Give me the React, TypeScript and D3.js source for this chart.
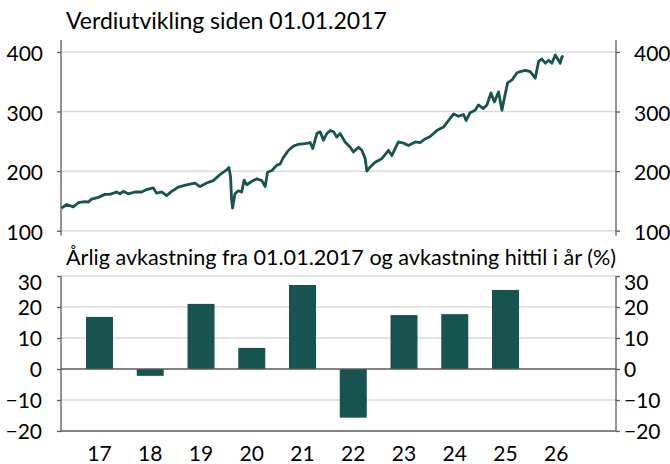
import * as d3 from 'd3';
import { useEffect, useRef } from 'react';

// Verdiutvikling (indeksert) - datoer og verdier lest av figuren
const lineDates = [
  '2017-01-05', '2017-02-09', '2017-03-26', '2017-04-29', '2017-06-14', '2017-07-06', '2017-07-30', '2017-09-13',
  '2017-10-29', '2017-12-02', '2018-01-17', '2018-02-09', '2018-03-03', '2018-04-07', '2018-05-22', '2018-07-07',
  '2018-08-10', '2018-09-24', '2018-10-18', '2018-11-21', '2018-12-25', '2019-01-28', '2019-03-14', '2019-05-11',
  '2019-07-07', '2019-08-10', '2019-09-25', '2019-11-09', '2019-12-25', '2020-02-09', '2020-02-25', '2020-03-07',
  '2020-03-14', '2020-03-21', '2020-04-06', '2020-04-29', '2020-05-22', '2020-06-08', '2020-06-26', '2020-07-31',
  '2020-09-03', '2020-10-07', '2020-10-30', '2020-11-15', '2020-12-15', '2021-01-18', '2021-02-10', '2021-03-04',
  '2021-04-08', '2021-05-12', '2021-06-15', '2021-07-31', '2021-09-03', '2021-09-21', '2021-10-19', '2021-11-10',
  '2021-12-03', '2021-12-26', '2022-01-18', '2022-02-10', '2022-03-04', '2022-03-27', '2022-04-30', '2022-06-04',
  '2022-06-26', '2022-07-31', '2022-08-23', '2022-09-15', '2022-09-26', '2022-10-19', '2022-11-22', '2023-01-07',
  '2023-02-21', '2023-03-16', '2023-04-30', '2023-06-04', '2023-07-08', '2023-08-23', '2023-09-26', '2023-10-30',
  '2023-12-04', '2024-01-18', '2024-03-04', '2024-04-08', '2024-05-12', '2024-06-15', '2024-07-19', '2024-08-06',
  '2024-09-02', '2024-10-06', '2024-10-29', '2024-12-02', '2024-12-26', '2025-01-23', '2025-02-15', '2025-03-16',
  '2025-04-08', '2025-04-24', '2025-05-17', '2025-06-16', '2025-07-20', '2025-08-12', '2025-09-15', '2025-10-19',
  '2025-11-22', '2025-12-15', '2026-01-07', '2026-01-30', '2026-02-22', '2026-03-16', '2026-04-08', '2026-04-23',
  '2026-05-12', '2026-05-24', '2026-06-04',
];
const lineValues = [
  138, 144, 140, 147, 149, 148, 153, 156,
  161, 161, 165, 162, 166, 162, 165, 165,
  169, 172, 163, 165, 159, 166, 173, 177,
  180, 174, 180, 184, 194, 202, 206, 190,
  153, 138, 162, 167, 165, 185, 177, 183,
  187, 184, 174, 198, 201, 210, 212, 223,
  235, 242, 245, 246, 248, 238, 263, 266,
  252, 263, 268, 266, 257, 263, 249, 240,
  232, 240, 235, 221, 200, 207, 215, 221,
  235, 226, 249, 247, 243, 249, 248, 254,
  258, 268, 274, 285, 296, 292, 295, 285,
  298, 302, 311, 305, 311, 331, 316, 333,
  302, 322, 348, 353, 365, 367, 369, 367,
  356, 384, 388, 381, 386, 381, 395, 389,
  381, 392, 393,
];
const lineTicks = [100, 200, 300, 400];

// Årlig avkastning (%)
const years = ['17', '18', '19', '20', '21', '22', '23', '24', '25', '26'];
const returns: (number | null)[] = [16.8, -2.2, 21.0, 6.8, 27.1, -15.7, 17.4, 17.7, 25.5, null];
const barTicks = [-20, -10, 0, 10, 20, 30];

const App = () => {
  const ref = useRef<SVGSVGElement | null>(null);

  useEffect(() => {
    const width = 670;
    const height = 464;
    const left = 61;
    const right = 616;
    const font = 'Lato, "Open Sans", sans-serif';
    const green = '#17544f';
    const grid = '#d9d9d9';
    const axisCol = '#595959';

    const svg = d3.select(ref.current).attr('width', width).attr('height', height);
    svg.selectAll('*').remove();
    svg.append('rect').attr('width', width).attr('height', height).attr('fill', '#fff');

    // ---------- Øvre figur: linje ----------
    const x = d3
      .scaleTime()
      .domain([new Date(2017, 0, 1), new Date(2027, 4, 29)])
      .range([left, right]);
    const y = d3.scaleLinear().domain([92, 420]).range([235.5, 40]);

    svg
      .append('text')
      .attr('x', 66)
      .attr('y', 29)
      .attr('font-family', font)
      .attr('font-size', 23)
      .attr('fill', '#000')
      .text('Verdiutvikling siden 01.01.2017');

    svg
      .append('g')
      .selectAll('line')
      .data(lineTicks)
      .join('line')
      .attr('x1', left)
      .attr('x2', right)
      .attr('y1', (d) => y(d))
      .attr('y2', (d) => y(d))
      .attr('stroke', grid)
      .attr('stroke-width', 1.5);

    const topLeft = svg
      .append('g')
      .attr('transform', `translate(${left},0)`)
      .call(d3.axisLeft(y).tickValues(lineTicks).tickSize(4).tickPadding(14));
    const topRight = svg
      .append('g')
      .attr('transform', `translate(${right},0)`)
      .call(d3.axisRight(y).tickValues(lineTicks).tickSize(4).tickPadding(14));
    [topLeft, topRight].forEach((g) => {
      g.select('.domain').attr('d', `M0,${y(420)}V${y(92)}`).attr('stroke', axisCol).attr('stroke-width', 1.3);
      g.selectAll('.tick line').attr('stroke', axisCol).attr('stroke-width', 1.3);
      g.selectAll('.tick text')
        .attr('font-family', font)
        .attr('font-size', 21)
        .attr('fill', '#000')
        .attr('dy', '0.42em');
    });

    const parse = d3.timeParse('%Y-%m-%d');
    const pts = lineDates.map((d, i) => [parse(d) as Date, lineValues[i]] as [Date, number]);
    const line = d3
      .line<[Date, number]>()
      .x((d) => x(d[0]))
      .y((d) => y(d[1]))
      .curve(d3.curveLinear);
    svg
      .append('path')
      .attr('d', line(pts))
      .attr('fill', 'none')
      .attr('stroke', green)
      .attr('stroke-width', 2.8)
      .attr('stroke-linejoin', 'round');

    // ---------- Nedre figur: søyler ----------
    const xb = d3
      .scaleBand()
      .domain(years)
      .range([left, right])
      .paddingInner(0.468)
      .paddingOuter(0.702)
      .align(0.351);
    const yb = d3.scaleLinear().domain([-20, 30]).range([431, 276]);

    svg
      .append('text')
      .attr('x', 66)
      .attr('y', 265)
      .attr('font-family', font)
      .attr('font-size', 21.6)
      .attr('fill', '#000')
      .text('Årlig avkastning fra 01.01.2017 og avkastning hittil i år (%)');

    svg
      .append('g')
      .selectAll('line')
      .data(barTicks.filter((d) => d !== 0 && d !== -20))
      .join('line')
      .attr('x1', left)
      .attr('x2', right)
      .attr('y1', (d) => yb(d))
      .attr('y2', (d) => yb(d))
      .attr('stroke', grid)
      .attr('stroke-width', 1.5);

    svg
      .append('g')
      .selectAll('rect')
      .data(years.map((yr, i) => ({ yr, v: returns[i] })).filter((d) => d.v !== null))
      .join('rect')
      .attr('x', (d) => xb(d.yr) as number)
      .attr('width', xb.bandwidth())
      .attr('y', (d) => yb(Math.max(0, d.v as number)))
      .attr('height', (d) => Math.abs(yb(d.v as number) - yb(0)))
      .attr('fill', green);

    svg
      .append('g')
      .selectAll('line')
      .data([0, -20])
      .join('line')
      .attr('x1', left)
      .attr('x2', right)
      .attr('y1', (d) => yb(d))
      .attr('y2', (d) => yb(d))
      .attr('stroke', axisCol)
      .attr('stroke-width', 1.3);

    const botLeft = svg
      .append('g')
      .attr('transform', `translate(${left},0)`)
      .call(d3.axisLeft(yb).tickValues(barTicks).tickSize(4).tickPadding(15));
    const botRight = svg
      .append('g')
      .attr('transform', `translate(${right},0)`)
      .call(d3.axisRight(yb).tickValues(barTicks).tickSize(4).tickPadding(4));
    [botLeft, botRight].forEach((g) => {
      g.select('.domain').attr('d', `M0,${yb(30)}V${yb(-20)}`).attr('stroke', axisCol).attr('stroke-width', 1.3);
      g.selectAll('.tick line').attr('stroke', axisCol).attr('stroke-width', 1.3);
      g.selectAll<SVGTextElement, number>('.tick text')
        .attr('font-family', font)
        .attr('font-size', 21)
        .attr('fill', '#000')
        .attr('dy', (d) => (d === 30 ? '0.62em' : '0.38em'));
    });

    svg
      .append('g')
      .selectAll('text')
      .data(years)
      .join('text')
      .attr('x', (d) => (xb(d) as number) + xb.bandwidth() / 2)
      .attr('y', 461)
      .attr('text-anchor', 'middle')
      .attr('font-family', font)
      .attr('font-size', 21)
      .attr('fill', '#000')
      .text((d) => d);
  }, []);

  return <svg ref={ref} style={{ position: 'absolute', left: 0, top: 0 }}></svg>;
};

export default App;
